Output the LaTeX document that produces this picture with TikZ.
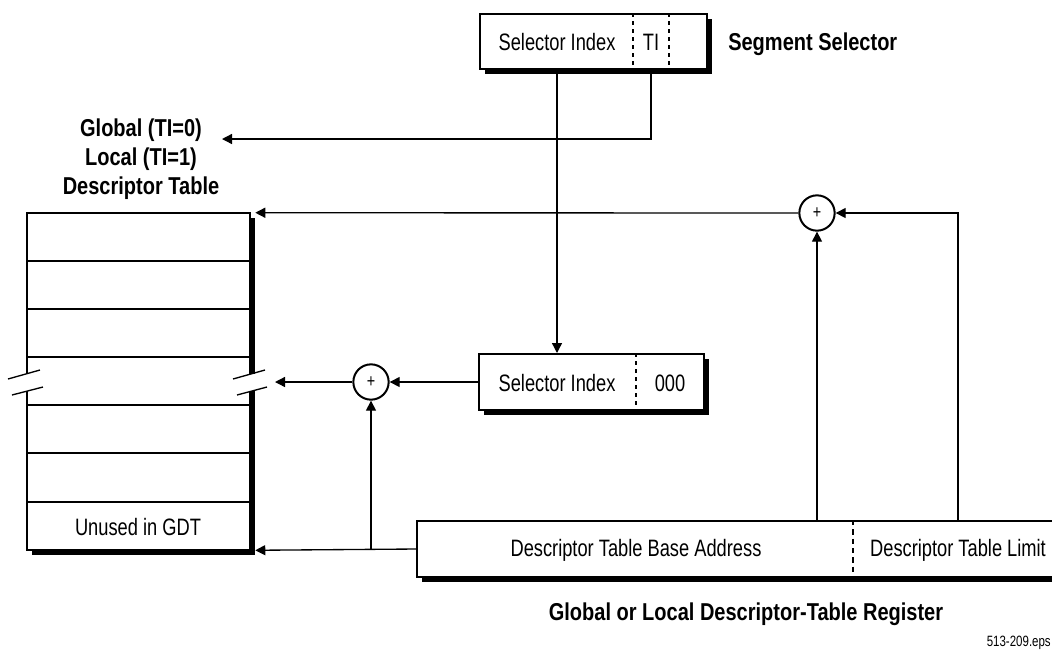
\documentclass[tikz,border=0pt]{standalone}
\usepackage{fontspec}
\setmainfont{Liberation Sans}[FakeStretch=0.77]
\newfontfamily\bfont{Liberation Sans}[FakeStretch=0.82]
\usetikzlibrary{arrows.meta,shadows,calc}
\tikzset{
  box/.style={draw, line width=1.5pt, fill=white, inner sep=0pt,
    general shadow={fill=black, shadow xshift=3.75pt, shadow yshift=-3.75pt}},
  tblbox/.style={fill=white, inner sep=0pt,
    general shadow={fill=black, shadow xshift=3.75pt, shadow yshift=-3.75pt}},
  plus/.style={circle, draw, line width=1.5pt, fill=white, minimum size=26.5pt, inner sep=0pt,
    font=\fontsize{14pt}{16pt}\selectfont},
  arr/.style={line width=1pt, -{Triangle[length=7.5pt,width=7.5pt]}},
  thin/.style={line width=0.8pt},
  txt/.style={font=\fontsize{17.8pt}{20pt}\selectfont, inner sep=0pt},
  btxt/.style={font=\bfont\bfseries\fontsize{18.3pt}{21.75pt}\selectfont, inner sep=0pt, align=center},
  smalltxt/.style={font=\fontsize{11.2pt}{13pt}\selectfont, inner sep=0pt},
}
\begin{document}
\begin{tikzpicture}[x=0.75pt,y=-0.75pt]
\useasboundingbox (0,0) rectangle (1052,654);
\clip (0,0) rectangle (1052,654);

% Segment selector
\node[box, minimum width=227*0.75pt, minimum height=55*0.75pt] (ss) at (593.5,41.5) {};
\draw[line width=1.5pt, dash pattern=on 3pt off 3pt] (ss.north -| 633,0) -- (ss.south -| 633,0);
\draw[line width=1.5pt, dash pattern=on 3pt off 3pt] (ss.north -| 669,0) -- (ss.south -| 669,0);
\node[txt] (ssidx) at (557,42) {Selector Index};
\node[txt] (ti) at (651,42) {TI};
\node[btxt, anchor=west] (sslabel) at (728,44) {Segment Selector};

% Global / Local label
\node[btxt] (glob) at (141,159) {Global (TI=0)\\Local (TI=1)\\Descriptor Table};
\coordinate (globin) at (222,139);

% Descriptor table
\node[tblbox, minimum width=223*0.75pt, minimum height=337*0.75pt] (tbl) at (138.5,381.5) {};
\draw[line width=1.5pt] (tbl.north west) rectangle (tbl.south east);
\foreach \yy in {261,309,357,405,453,502}
  \draw[thin] (27,\yy) -- (250,\yy);
\fill[white] (18,374) rectangle (36,391);
\fill[white] (242,374) rectangle (260,391);
\draw[line width=1pt] (8,379) -- (40,370);
\draw[line width=1pt] (12,395) -- (43,387);
\draw[line width=1pt] (233,379) -- (265,370);
\draw[line width=1pt] (237,395) -- (267,387);
\node[txt] (unused) at (138,527) {Unused in GDT};
\coordinate (tblmid) at (275,382);

% Second selector
\node[box, minimum width=225*0.75pt, minimum height=56*0.75pt] (si) at (591.5,382) {};
\draw[line width=1.5pt, dash pattern=on 3pt off 3pt] (si.north -| 636,0) -- (si.south -| 636,0);
\node[txt] (siidx) at (557,383) {Selector Index};
\node[txt] (zeros) at (670,383) {000};

% adders
\node[plus] (p1) at (371,382) {+};
\node[plus] (p2) at (817,213) {+};

% Register
\node[box, minimum width=673*0.75pt, minimum height=56*0.75pt] (reg) at (753.5,549) {};
\draw[line width=0.8pt, dash pattern=on 4pt off 3pt] (reg.north -| 853,0) -- (reg.south -| 853,0);
\node[txt] (base) at (636,550) {Descriptor Table Base Address};
\node[txt] (lim) at (958,550) {Descriptor Table Limit};
\node[btxt] (reglabel) at (746,614) {Global or Local Descriptor-Table Register};
\node[smalltxt, anchor=east] (eps) at (1051,643) {513-209.eps};

% connectors
\draw[arr] (ti |- ss.south) |- (globin);
\draw[arr] (ssidx |- ss.south) -- (ssidx |- si.north);
\draw[arr] (si.west) -- (p1.east);
\draw[arr] (p1.west) -- (tblmid);
\draw[arr] (reg.west) -- ($(tbl.south east)+(5,0)$);
\draw[arr] (p1 |- reg.west) -- (p1.south);
\draw[arr] (p2 |- reg.north) -- (p2.south);
\draw[arr] (lim |- reg.north) |- (p2.east);
\draw[arr] (p2.west) -- ($(tbl.north east)+(5,0)$);
\end{tikzpicture}
\end{document}
